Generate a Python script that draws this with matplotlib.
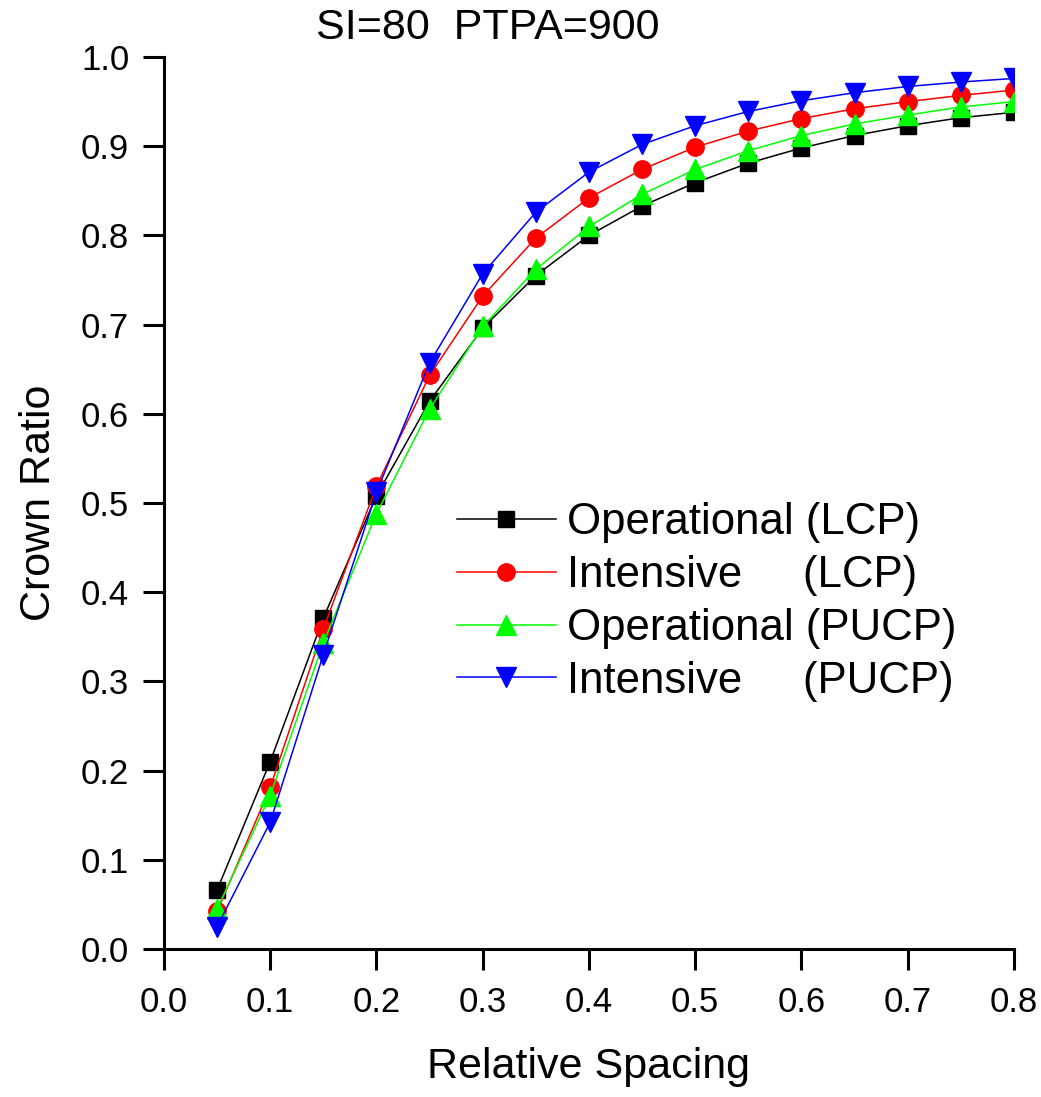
import numpy as np
import matplotlib
matplotlib.use("Agg")
from matplotlib import pyplot as plt

plt.rcParams['font.family'] = ['Liberation Sans', 'DejaVu Sans']

# relative spacing values
spacing = [0.05, 0.10, 0.15, 0.20, 0.25, 0.30, 0.35, 0.40,
           0.45, 0.50, 0.55, 0.60, 0.65, 0.70, 0.75, 0.80]

# crown ratio for each method
opLCP = [0.066, 0.210, 0.371, 0.508, 0.614, 0.696, 0.755, 0.800,
         0.833, 0.859, 0.881, 0.898, 0.912, 0.923, 0.932, 0.938]
intLCP = [0.042, 0.181, 0.359, 0.519, 0.643, 0.732, 0.797, 0.842,
          0.874, 0.899, 0.917, 0.931, 0.942, 0.950, 0.957, 0.963]
opPUCP = [0.045, 0.172, 0.343, 0.488, 0.605, 0.698, 0.762, 0.810,
          0.846, 0.874, 0.895, 0.912, 0.925, 0.935, 0.944, 0.950]
intPUCP = [0.025, 0.142, 0.330, 0.512, 0.657, 0.757, 0.826, 0.871,
           0.902, 0.923, 0.939, 0.951, 0.960, 0.967, 0.972, 0.976]

labels = ["Operational (LCP)", "Intensive     (LCP)",
          "Operational (PUCP)", "Intensive     (PUCP)"]

fig = plt.figure(figsize=(10.41, 10.97), dpi=100)
ax = fig.add_axes([0.1575, 0.135, 0.8165, 0.813])

ax.plot(spacing, opLCP, color='black', marker='s', markersize=11, linewidth=1.1, label=labels[0])
ax.plot(spacing, intLCP, color='#FF0000', marker='o', markersize=12.5, linewidth=1.1, label=labels[1])
ax.plot(spacing, opPUCP, color='#00FF00', marker='^', markersize=14, linewidth=1.1, label=labels[2])
ax.plot(spacing, intPUCP, color='#0000FF', marker='v', markersize=14, linewidth=1.1, label=labels[3])

ax.set_xlim(0, 0.8)
ax.set_ylim(0, 1.0)
ax.set_xticks(np.arange(0, 0.81, 0.1))
ax.set_yticks(np.arange(0, 1.01, 0.1))
ax.xaxis.set_major_formatter(matplotlib.ticker.FormatStrFormatter('%.1f'))
ax.yaxis.set_major_formatter(matplotlib.ticker.FormatStrFormatter('%.1f'))

ax.spines['top'].set_visible(False)
ax.spines['right'].set_visible(False)
ax.spines['left'].set_linewidth(2.2)
ax.spines['bottom'].set_linewidth(2.2)
ax.tick_params(direction='out', length=15, width=2.2, labelsize=25)
ax.tick_params(axis='x', pad=12)
ax.tick_params(axis='y', pad=10)

ax.set_xlabel("Relative Spacing", fontsize=31, labelpad=20)
ax.set_ylabel("Crown Ratio", fontsize=31, labelpad=16)

fig.text(0.469, 0.9745, "SI=80  PTPA=900", fontsize=31, ha='center', va='center')

ax.legend(loc='upper left', bbox_to_anchor=(0.324, 0.5205), frameon=False,
          fontsize=31.5, handlelength=2.26, labelspacing=0.27, handletextpad=0.25,
          borderaxespad=0)

fig.savefig('out.png', dpi=100)
